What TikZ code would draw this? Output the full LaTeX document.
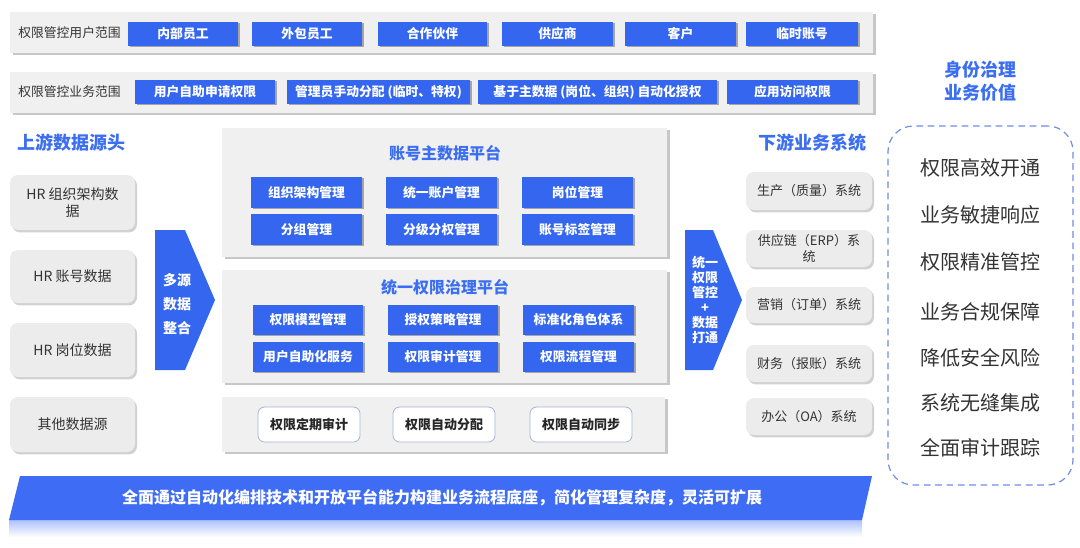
\documentclass[tikz,border=0pt]{standalone}
\usepackage{fontspec}
\setmainfont{Noto Sans CJK SC}
\usetikzlibrary{shadows}
\definecolor{bboxc}{RGB}{52,102,240}
\definecolor{headc}{RGB}{59,110,240}
\definecolor{panelc}{RGB}{240,240,240}
\definecolor{lboxc}{RGB}{236,236,236}
\definecolor{txtc}{RGB}{51,51,51}
\definecolor{bandc}{RGB}{62,108,245}
\definecolor{dashc}{RGB}{110,140,230}
\definecolor{wbord}{RGB}{165,180,215}
\newcommand\bx[7]{%
  \pgfmathsetmacro\bxw{(#5-#3)*0.75}%
  \pgfmathsetmacro\bxh{(#6-#4)*0.75}%
  \node[#1, minimum width=\bxw pt, minimum height=\bxh pt] (#2) at ({(#3+#5)/2},{(#4+#6)/2}) {#7};}
\tikzset{
  panel/.style={fill=panelc, draw=none, inner sep=0pt,
    drop shadow={shadow xshift=2pt, shadow yshift=-1.5pt, fill=black!40, opacity=0.55}},
  bluebox/.style={fill=bboxc, text=white, inner sep=0pt,
    font=\bfseries\fontsize{9.6}{11}\selectfont,
    drop shadow={shadow xshift=1.6pt, shadow yshift=-0.8pt, fill=black!55, opacity=0.6}},
  lbox/.style={fill=lboxc, rounded corners=6pt, text=txtc, align=center, inner sep=0pt,
    font=\fontsize{10.5}{13}\selectfont,
    drop shadow={shadow xshift=1.5pt, shadow yshift=-1.8pt, fill=black!30, opacity=0.6}},
  rbox/.style={lbox, font=\fontsize{9.75}{12.5}\selectfont},
  wbox/.style={fill=white, draw=wbord, line width=0.6pt, rounded corners=5pt, text=black!85,
    inner sep=0pt, font=\bfseries\fontsize{9.75}{11}\selectfont},
  barlabel/.style={anchor=west, text=txtc, inner sep=0pt, font=\fontsize{9.6}{11}\selectfont},
  header/.style={text=headc, inner sep=0pt, font=\bfseries\fontsize{13.5}{17}\selectfont, align=center},
  ptitle/.style={text=headc, inner sep=0pt, font=\bfseries\fontsize{12}{14}\selectfont},
  arrowtext/.style={text=white, align=center, inner sep=0pt},
  valbox/.style={draw=dashc, dash pattern=on 5pt off 3.5pt, line width=0.9pt, rounded corners=19pt},
  valitem/.style={text=txtc, inner sep=0pt, font=\fontsize{15}{18}\selectfont},
  bandtext/.style={text=white, inner sep=0pt, font=\bfseries\fontsize{12}{14}\selectfont}
}
\begin{document}
\begin{tikzpicture}[x=0.75pt, y=-0.75pt]
\useasboundingbox (0,0) rectangle (1080,547);
% top bars
\bx{panel}{bar1}{10}{12}{873}{53}{}
\node[barlabel] (bar1l) at (18,33) {权限管控用户范围};
\bx{bluebox}{u1}{128}{22}{238}{46}{内部员工}
\bx{bluebox}{u2}{252}{22}{362}{46}{外包员工}
\bx{bluebox}{u3}{378}{22}{487}{46}{合作伙伴}
\bx{bluebox}{u4}{502}{22}{613}{46}{供应商}
\bx{bluebox}{u5}{625}{22}{736}{46}{客户}
\bx{bluebox}{u6}{746}{22}{858}{46}{临时账号}
\bx{panel}{bar2}{10}{72}{873}{113}{}
\node[barlabel] (bar2l) at (18,92) {权限管控业务范围};
\bx{bluebox}{s1}{135}{80}{275}{104}{用户自助申请权限}
\bx{bluebox}{s2}{287}{80}{470}{104}{管理员手动分配 (临时、特权)}
\bx{bluebox}{s3}{478}{80}{717}{104}{基于主数据 (岗位、组织) 自动化授权}
\bx{bluebox}{s4}{727}{80}{858}{104}{应用访问权限}
% left column
\node[header, anchor=west] (lhead) at (17,143) {上游数据源头};
\bx{lbox}{l1}{10}{175}{135}{230}{HR 组织架构数\\据}
\bx{lbox}{l2}{10}{250}{135}{303}{HR 账号数据}
\bx{lbox}{l3}{10}{323}{135}{377}{HR 岗位数据}
\bx{lbox}{l4}{10}{397}{135}{452}{其他数据源}
\fill[bboxc] (155,230) -- (185,230) -- (215,300) -- (185,370) -- (155,370) -- cycle;
\node[arrowtext, font=\bfseries\fontsize{10.5}{18}\selectfont] (larrow) at (177,304) {多源\\数据\\整合};
% center panels
\bx{panel}{p1}{222}{128}{667}{257}{}
\node[ptitle] (p1t) at (445,153) {账号主数据平台};
\bx{bluebox}{a1}{251}{177}{362}{208}{组织架构管理}
\bx{bluebox}{a2}{386}{177}{497}{208}{统一账户管理}
\bx{bluebox}{a3}{522}{177}{633}{208}{岗位管理}
\bx{bluebox}{a4}{251}{214}{362}{245}{分组管理}
\bx{bluebox}{a5}{386}{214}{497}{245}{分级分权管理}
\bx{bluebox}{a6}{522}{214}{633}{245}{账号标签管理}
\bx{panel}{p2}{222}{270}{667}{383}{}
\node[ptitle] (p2t) at (445,287) {统一权限治理平台};
\bx{bluebox}{b1}{253}{305}{363}{335}{权限模型管理}
\bx{bluebox}{b2}{388}{305}{498}{335}{授权策略管理}
\bx{bluebox}{b3}{523}{305}{634}{335}{标准化角色体系}
\bx{bluebox}{b4}{253}{342}{363}{372}{用户自助化服务}
\bx{bluebox}{b5}{388}{342}{498}{372}{权限审计管理}
\bx{bluebox}{b6}{523}{342}{634}{372}{权限流程管理}
\bx{panel}{p3}{222}{397}{665}{452}{}
\bx{wbox}{c1}{258}{407}{360}{442}{权限定期审计}
\bx{wbox}{c2}{393}{407}{495}{442}{权限自动分配}
\bx{wbox}{c3}{530}{407}{632}{442}{权限自动同步}
% right arrow
\fill[bboxc] (685,230) -- (713,230) -- (742,300) -- (713,370) -- (685,370) -- cycle;
\node[arrowtext, font=\bfseries\fontsize{9.75}{11.25}\selectfont] (rarrow) at (705,300) {统一\\权限\\管控\\+\\数据\\打通};
% right column
\node[header] (rhead) at (812,143) {下游业务系统};
\bx{rbox}{r1}{746}{172}{872}{210}{生产（质量）系统}
\bx{rbox}{r2}{746}{230}{872}{267}{供应链（ERP）系\\统}
\bx{rbox}{r3}{746}{287}{872}{323}{营销（订单）系统}
\bx{rbox}{r4}{746}{345}{872}{382}{财务（报账）系统}
\bx{rbox}{r5}{746}{398}{872}{435}{办公（OA）系统}
% value panel
\node[header] (vhead) at (980,81) {身份治理\\业务价值};
\bx{valbox}{vbox}{888}{126}{1073}{485}{}
\node[valitem] (v1) at (980,168) {权限高效开通};
\node[valitem] (v2) at (980,215) {业务敏捷响应};
\node[valitem] (v3) at (980,262) {权限精准管控};
\node[valitem] (v4) at (980,312) {业务合规保障};
\node[valitem] (v5) at (980,358) {降低安全风险};
\node[valitem] (v6) at (980,403) {系统无缝集成};
\node[valitem] (v7) at (980,448) {全面审计跟踪};
% bottom band
\shade[top color=bandc!45, bottom color=white] (9,519) -- (862,519) -- (862,537) -- (9,537) -- cycle;
\fill[bandc] (20,476) -- (872,476) -- (862,520) -- (9,520) -- cycle;
\node[bandtext] (band) at (442,498) {全面通过自动化编排技术和开放平台能力构建业务流程底座，简化管理复杂度，灵活可扩展};
\end{tikzpicture}
\end{document}
